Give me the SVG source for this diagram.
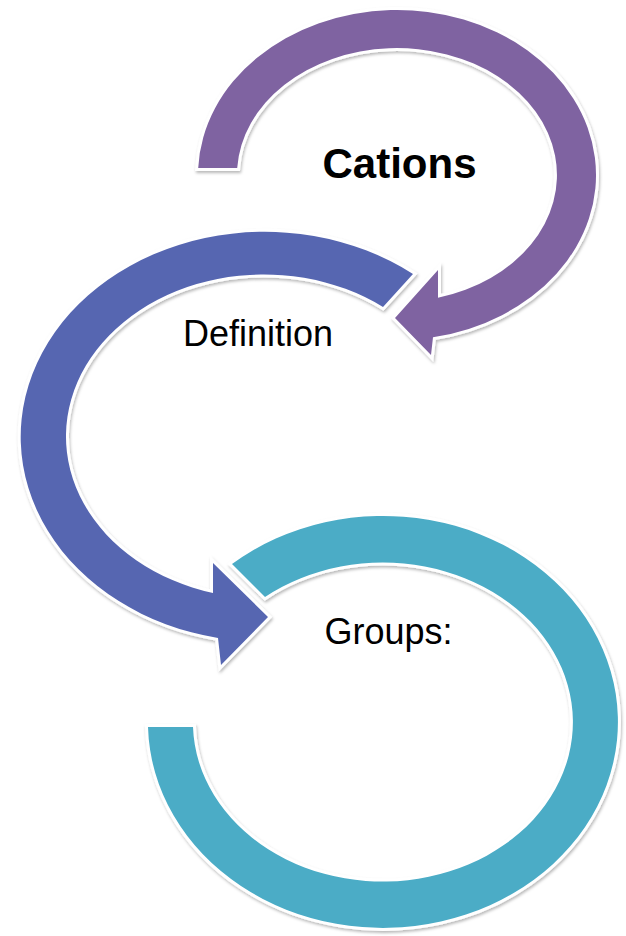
<svg xmlns="http://www.w3.org/2000/svg" width="626" height="936" viewBox="0 0 626 936">
  <defs>
    <filter id="sh" x="-10%" y="-10%" width="120%" height="120%">
      <feDropShadow dx="1" dy="2" stdDeviation="1.8" flood-color="#000" flood-opacity="0.28"/>
    </filter>
    <style>
      .arrow { stroke: #fff; stroke-width: 6; stroke-linejoin: miter; paint-order: stroke; filter: url(#sh); }
      .purple { fill: #7F63A1; }
      .blue { fill: #5666B1; }
      .teal { fill: #4BACC6; }
      .lbl { font-family: "Liberation Sans", Arial, sans-serif; fill: #000; text-anchor: middle; }
    </style>
  </defs>
  <rect width="626" height="936" fill="#fff"/>

  <g id="node-cations">
    <path class="arrow purple" d="M198.2,168 A199,165 0 1 1 433,337.3 L431,355 L395,318 L438,270 L438,297.8 A160,127 0 1 0 237.2,168 Z"/>
    <text class="lbl" x="399.5" y="178" font-size="42" font-weight="bold">Cations</text>
  </g>

  <g id="node-definition">
    <path class="arrow blue" d="M413,274 A244,205 0 1 0 218,638 L221,665 L268,617 L213,563 L213,593 A198,162 0 1 1 383,307 Z"/>
    <text class="lbl" x="258" y="346" font-size="36">Definition</text>
  </g>

  <g id="node-groups">
    <path class="arrow teal" d="M232,564 A235,206 0 1 1 148,727 L193,727 A190,159.5 0 1 0 265,597 Z"/>
    <text class="lbl" x="388.5" y="644" font-size="36">Groups:</text>
  </g>

  <g id="connectors"/>
</svg>
